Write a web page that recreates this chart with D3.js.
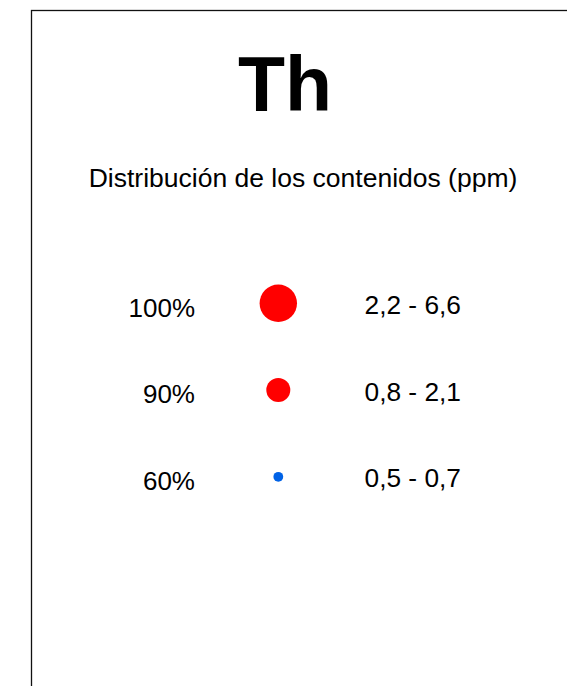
<!DOCTYPE html>
<html>
<head>
<meta charset="utf-8">
<script src="https://cdn.jsdelivr.net/npm/d3@7"></script>
<style>
  html, body { margin: 0; padding: 0; background: #fff; overflow: hidden; }
  text { font-family: "Liberation Sans", Arial, sans-serif; fill: #000; }
</style>
</head>
<body>
<div id="plot"></div>
<script>
// Legend data
var element = 'Th';
var subtitle = 'Distribución de los contenidos (ppm)';
var percents = ['100%', '90%', '60%'];
var ranges = ['2,2 - 6,6', '0,8 - 2,1', '0,5 - 0,7'];
var classes = ['high', 'mid', 'low'];

var svg_width = 567;
var svg_height = 686;

var svg = d3.select('#plot').append('svg')
    .attr('width', svg_width)
    .attr('height', svg_height);

// frame (only top and left edges fall inside the picture)
svg.append('rect')
  .attr('x', 31.5)
  .attr('y', 10.5)
  .attr('width', 1000)
  .attr('height', 1000)
  .attr('fill', 'none')
  .attr('stroke', '#111')
  .attr('stroke-width', 1.3);

// Title
svg.append('text')
  .attr('x', 285)
  .attr('y', 111)
  .attr('text-anchor', 'middle')
  .style('font-size', '77px')
  .style('font-weight', 'bold')
  .text(element);

svg.append('text')
  .attr('x', 303)
  .attr('y', 186.5)
  .attr('text-anchor', 'middle')
  .style('font-size', '26.5px')
  .text(subtitle);

// row positions
var yscale = d3.scalePoint()
    .domain(classes)
    .range([303.3, 476.8]);

var rscale = d3.scaleOrdinal()
    .domain(classes)
    .range([18.7, 12, 4.9]);

var color = d3.scaleOrdinal()
    .domain(classes)
    .range(['#ff0000', '#ff0000', '#0062e6']);

var rows = svg.selectAll('g.row')
    .data(classes.map(function(c, i) {
      return { key: c, pct: percents[i], range: ranges[i] };
    }))
    .enter().append('g')
      .attr('class', 'row');

rows.append('circle')
  .attr('cx', 278.3)
  .attr('cy', d => yscale(d.key))
  .attr('r', d => rscale(d.key))
  .attr('fill', d => color(d.key));

rows.append('text')
  .attr('x', 195)
  .attr('y', d => yscale(d.key) + 13.3)
  .attr('text-anchor', 'end')
  .style('font-size', '26px')
  .text(d => d.pct);

rows.append('text')
  .attr('x', 364.5)
  .attr('y', d => yscale(d.key) + 10.6)
  .attr('text-anchor', 'start')
  .style('font-size', '26.3px')
  .text(d => d.range);
</script>
</body>
</html>
